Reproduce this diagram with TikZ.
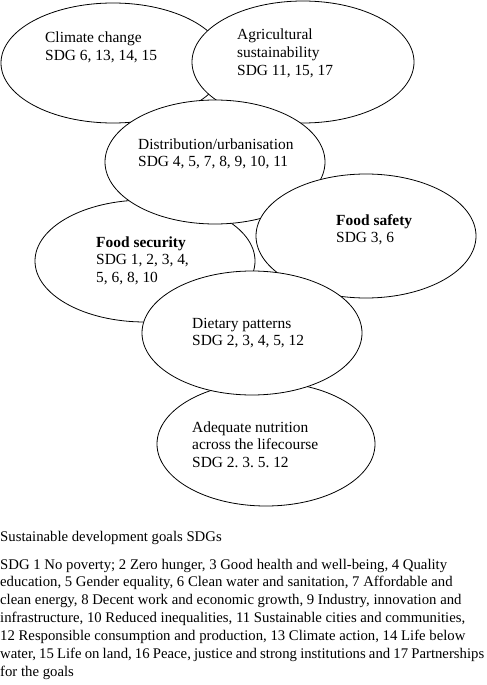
\documentclass[tikz,border=0pt]{standalone}
\usepackage{fontspec}
\setmainfont{Liberation Serif}
\usetikzlibrary{shapes.geometric}
\frenchspacing
\tikzset{
  blob/.style={ellipse, draw=black, line width=0.8bp, fill=white, inner sep=0pt},
  lab/.style={inner sep=0pt, anchor=base west, font=\fontsize{15.5}{17.6}\selectfont},
  note/.style={inner sep=0pt, anchor=base west, font=\fontsize{14.8}{18}\selectfont},
}
\newcommand\stackedlines[1]{\begin{tabular}[t]{@{}l@{}}#1\end{tabular}}
\begin{document}
\begin{tikzpicture}[x=1bp,y=-1bp]
\useasboundingbox (0,0) rectangle (487,685);
% ellipses, back to front
\node[blob, minimum width=224bp, minimum height=120bp] (clim) at (113,63) {};
\node[blob, minimum width=222bp, minimum height=122bp] (agri) at (303,62) {};
\node[blob, minimum width=220bp, minimum height=122bp] (fsec) at (145,261) {};
\node[blob, minimum width=220bp, minimum height=124bp] (dist) at (215,162) {};
\node[blob, minimum width=220bp, minimum height=124bp] (fsaf) at (366,236) {};
\node[blob, minimum width=218bp, minimum height=124bp] (adeq) at (266,444) {};
\node[blob, minimum width=220bp, minimum height=124bp] (diet) at (252,333) {};
% labels
\node[lab] (climt) at (45,43) {\stackedlines{Climate change\\SDG 6, 13, 14, 15}};
\node[lab] (agrit) at (237,40) {\stackedlines{Agricultural\\sustainability\\SDG 11, 15, 17}};
\node[lab] (distt) at (138,149) {\stackedlines{Distribution/urbanisation\\SDG 4, 5, 7, 8, 9, 10, 11}};
\node[lab] (fsaft) at (336,225) {\stackedlines{\textbf{Food safety}\\SDG 3, 6}};
\node[lab] (fsect) at (96,247) {\stackedlines{\textbf{Food security}\\SDG 1, 2, 3, 4,\\5, 6, 8, 10}};
\node[lab] (diett) at (192,328) {\stackedlines{Dietary patterns\\SDG 2, 3, 4, 5, 12}};
\node[lab] (adeqt) at (192,432) {\stackedlines{Adequate nutrition\\across the lifecourse\\SDG 2. 3. 5. 12}};
% legend
\node[note] (title) at (0,541) {Sustainable development goals SDGs};
\node[note] (para) at (0,569) {\stackedlines{%
SDG 1 No poverty; 2 Zero hunger, 3 Good health and well-being, 4 Quality\\
education, 5 Gender equality, 6 Clean water and sanitation, 7 Affordable and\\
clean energy, 8 Decent work and economic growth, 9 Industry, innovation and\\
infrastructure, 10 Reduced inequalities, 11 Sustainable cities and communities,\\
12 Responsible consumption and production, 13 Climate action, 14 Life below\\
\makebox[484bp][s]{water, 15 Life on land, 16 Peace, justice and strong institutions and 17 Partnerships}\\
for the goals}};
\end{tikzpicture}
\end{document}
